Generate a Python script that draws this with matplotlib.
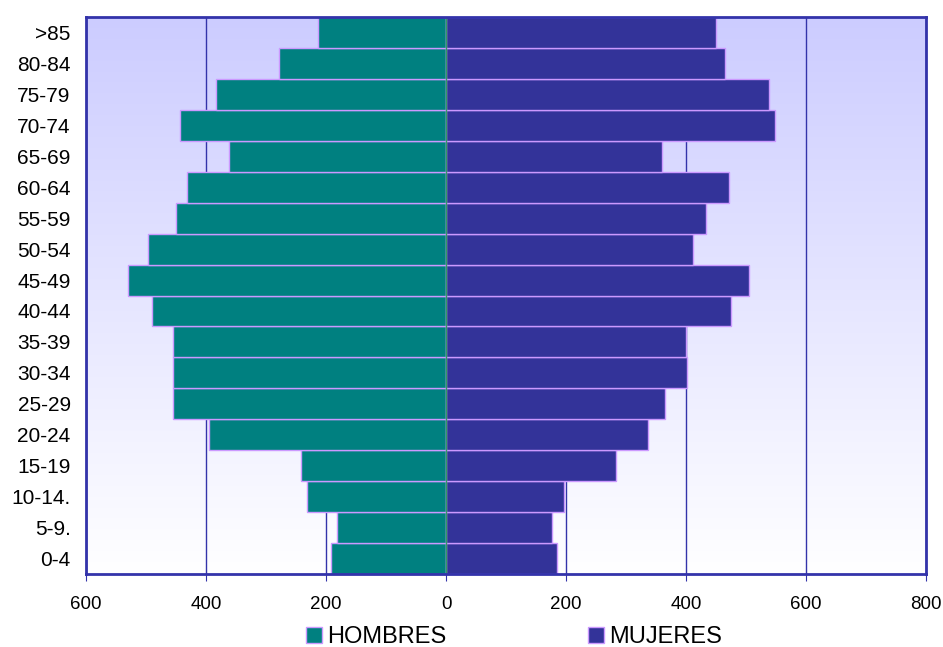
import numpy as np
import matplotlib
matplotlib.use("Agg")
import matplotlib.pyplot as plt

plt.rcParams['font.family'] = ['Liberation Sans', 'DejaVu Sans']

# Grupos de edad (de abajo hacia arriba)
grupos = ['0-4', '5-9.', '10-14.', '15-19', '20-24', '25-29', '30-34', '35-39',
          '40-44', '45-49', '50-54', '55-59', '60-64', '65-69', '70-74',
          '75-79', '80-84', '>85']
hombres = [191, 181, 232, 241, 395, 455, 455, 455, 490, 530, 497, 450,
           432, 362, 444, 383, 278, 214]
mujeres = [185, 176, 196, 283, 337, 365, 401, 400, 475, 505, 412, 433,
           471, 360, 549, 539, 465, 450]

col_h = '#008080'
col_m = '#333399'
borde = '#cc99ff'
marco = '#3333aa'

fig = plt.figure(figsize=(9.43, 6.47), dpi=100)
ax = fig.add_axes([0.0912, 0.1128, 0.8908, 0.8609])

# fondo degradado (lavanda arriba, blanco abajo)
grad = np.linspace(0, 1, 256).reshape(-1, 1)
cmap = matplotlib.colors.LinearSegmentedColormap.from_list('fondo', ['#ccccff', '#ffffff'])
ax.imshow(grad, aspect='auto', cmap=cmap, extent=[0, 1, 0, 1], origin='upper',
          transform=ax.transAxes, zorder=0)

y = np.arange(len(grupos))
ax.barh(y, [-v for v in hombres], height=1.0, color=col_h, edgecolor=borde,
        linewidth=1, zorder=2, label='HOMBRES')
ax.barh(y, mujeres, height=1.0, color=col_m, edgecolor=borde,
        linewidth=1, zorder=2, label='MUJERES')
ax.axvline(0, color='#339966', lw=1, zorder=3)

ax.set_xlim(-600, 800)
ax.set_ylim(-0.5, len(grupos) - 0.5)
ticks = [-600, -400, -200, 0, 200, 400, 600, 800]
ax.set_xticks(ticks)
ax.set_xticklabels([str(abs(t)) for t in ticks], fontsize=13.5)
ax.set_yticks(y)
ax.set_yticklabels(grupos, fontsize=15)
ax.tick_params(axis='y', length=0, pad=11)
ax.tick_params(axis='x', length=5, color=marco, pad=11)

ax.grid(axis='x', color=marco, lw=1, zorder=1)
ax.set_axisbelow(True)
for s in ax.spines.values():
    s.set_color(marco)
    s.set_linewidth(2)
    s.set_zorder(4)

fig.legend(loc='center', bbox_to_anchor=(0.545, 0.015), ncol=2, frameon=False,
           fontsize=17, handlelength=0.7, handleheight=0.7, handletextpad=0.2,
           columnspacing=6.0)

fig.savefig('out.png', dpi=100)
